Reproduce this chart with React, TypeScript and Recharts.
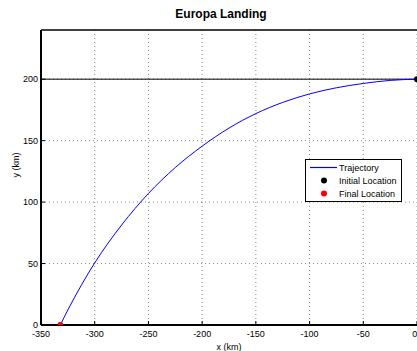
import { ComposedChart, Line, Scatter, XAxis, YAxis, CartesianGrid, ReferenceLine, Legend } from 'recharts';

// Trajectory (km)
const trajX = [-332, -325, -300, -275, -250, -225, -200, -175, -150, -125, -100, -75, -50, -25, 0];
const trajY = [0, 12.2, 50.5, 81.3, 107, 128.1, 145.5, 160.2, 172, 181.1, 188, 193, 196.5, 199, 200];

const initialPoint = [{ x: 0, y: 200 }];
const finalPoint = [{ x: -332, y: 0 }];

// horizontal reference lines: start altitude and surface
const startAltitude = 200;
const surface = 0;

const xTicks = [-350, -300, -250, -200, -150, -100, -50, 0];
const yTicks = [0, 50, 100, 150, 200];

const trajectory = trajX.map((x, i) => ({ x, y: trajY[i] }));
const altitudeLine = [{ x: -350, y: startAltitude }, { x: 0, y: startAltitude }];
const surfaceLine = [{ x: -350, y: surface }, { x: 0, y: surface }];

const legendItems = [
  { name: 'Trajectory', kind: 'line', color: '#0000ff' },
  { name: 'Initial Location', kind: 'dot', color: '#000000' },
  { name: 'Final Location', kind: 'dot', color: '#ff0000' },
];

const font = '"Liberation Sans", Arial, Helvetica, sans-serif';

const LegendBox = () => (
  <div
    style={{
      border: '1.5px solid #000',
      background: '#fff',
      padding: '1px 0 1px 0',
      fontFamily: font,
      fontSize: 9,
      color: '#000',
      boxSizing: 'border-box',
      width: 97,
    }}
  >
    {legendItems.map((item) => (
      <div key={item.name} style={{ display: 'flex', alignItems: 'center', height: 13 }}>
        <svg width={33} height={13} style={{ flex: 'none' }}>
          {item.kind === 'line' ? (
            <line x1={4} y1={6.5} x2={31} y2={6.5} stroke={item.color} strokeWidth={1.2} />
          ) : (
            <circle cx={18} cy={6.5} r={3} fill={item.color} />
          )}
        </svg>
        <span style={{ whiteSpace: 'nowrap' }}>{item.name}</span>
      </div>
    ))}
  </div>
);

export default function App() {
  return (
    <div style={{ position: 'absolute', left: 0, top: 0, width: 417, height: 351, background: '#fff', overflow: 'hidden', fontFamily: font }}>
      <div
        style={{
          position: 'absolute',
          top: 7,
          left: 121,
          width: 200,
          textAlign: 'center',
          fontSize: 12,
          fontWeight: 'bold',
          color: '#000',
        }}
      >
        Europa Landing
      </div>
      <ComposedChart width={417} height={351} margin={{ top: 30, right: 0, bottom: 0, left: 0 }}>
        <CartesianGrid stroke="#888" strokeDasharray="1 3" verticalValues={xTicks} horizontalValues={yTicks} />
        <XAxis
          type="number"
          dataKey="x"
          domain={[-350, 0]}
          ticks={xTicks}
          allowDataOverflow
          height={26}
          tickSize={-4}
          tickMargin={10}
          tickLine={{ stroke: '#000' }}
          axisLine={{ stroke: '#000', strokeWidth: 2 }}
          tick={{ fill: '#000', fontSize: 9, fontFamily: font }}
          label={{ value: 'x (km)', position: 'insideBottom', offset: 1, fill: '#000', fontSize: 9, fontFamily: font }}
        />
        <YAxis
          type="number"
          dataKey="y"
          domain={[0, 240]}
          ticks={yTicks}
          allowDataOverflow
          width={41}
          tickSize={-4}
          tickMargin={7}
          tickLine={{ stroke: '#000' }}
          axisLine={{ stroke: '#000', strokeWidth: 2 }}
          tick={{ fill: '#000', fontSize: 9, fontFamily: font }}
          label={{ value: 'y (km)', angle: -90, position: 'insideLeft', offset: 16, fill: '#000', fontSize: 9, fontFamily: font }}
        />
        <ReferenceLine y={240} stroke="#000" strokeWidth={1.5} />
        <Line data={altitudeLine} dataKey="y" stroke="#000" strokeWidth={1} dot={false} legendType="none" isAnimationActive={false} />
        <Line data={surfaceLine} dataKey="y" stroke="#ff0000" strokeWidth={1.5} dot={false} legendType="none" isAnimationActive={false} />
        <Line data={trajectory} dataKey="y" type="monotone" stroke="#0000ff" strokeWidth={1} dot={false} name="Trajectory" isAnimationActive={false} />
        <Scatter data={initialPoint} dataKey="y" fill="#000" shape={(p: any) => <circle cx={p.cx} cy={p.cy} r={3} fill="#000" />} name="Initial Location" isAnimationActive={false} />
        <Scatter data={finalPoint} dataKey="y" fill="#ff0000" shape={(p: any) => <circle cx={p.cx} cy={p.cy} r={3} fill="#ff0000" />} name="Final Location" isAnimationActive={false} />
        <Legend
          layout="vertical"
          align="center"
          verticalAlign="middle"
          content={() => <LegendBox />}
          wrapperStyle={{ position: 'absolute', left: 305, top: 159, width: 97, height: 'auto' }}
        />
      </ComposedChart>
    </div>
  );
}
